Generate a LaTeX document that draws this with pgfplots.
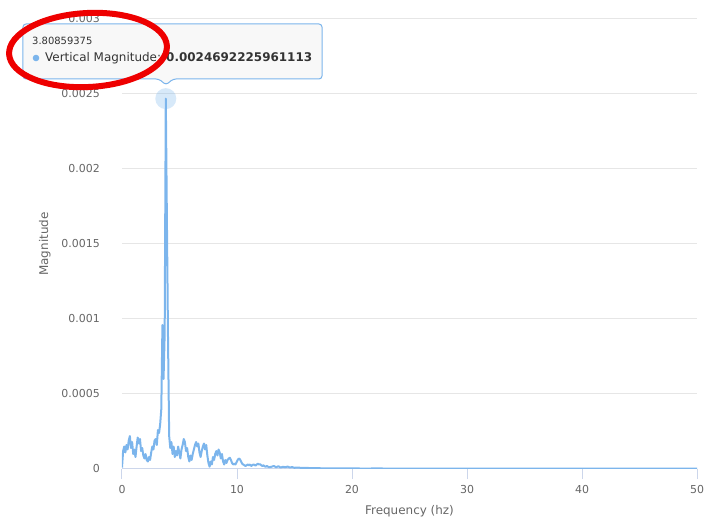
\documentclass[border=0pt]{standalone}
\usepackage{pgfplots}
\pgfplotsset{compat=1.18}
\usepackage{fontspec}
\setmainfont{DejaVu Sans}
\definecolor{hcblue}{HTML}{7CB5EC}
\definecolor{gridc}{HTML}{E6E6E6}
\definecolor{axc}{HTML}{CCD6EB}
\definecolor{lab}{HTML}{666666}
\definecolor{ttxt}{HTML}{333333}
\definecolor{ttbg}{HTML}{F7F7F7}
\definecolor{annred}{HTML}{EE0000}
\begin{document}
\begin{tikzpicture}
\useasboundingbox (-122bp,-51bp) rectangle (591bp,469bp);
\begin{axis}[
 scale only axis, width=575bp, height=450bp,
 xmin=0, xmax=50, ymin=0, ymax=0.003,
 axis lines=left, axis line style={-},
 x axis line style={draw=axc, line width=1bp},
 y axis line style={draw=none},
 xtick={0,10,20,30,40,50}, xticklabels={0,10,20,30,40,50},
 ytick={0,0.0005,0.001,0.0015,0.002,0.0025,0.003},
 yticklabels={0,0.0005,0.001,0.0015,0.002,0.0025,0.003},
 scaled y ticks=false,
 tick align=outside, major tick length=10bp,
 xtick style={draw=axc, line width=1bp},
 ytick style={draw=none},
 ymajorgrids, grid style={draw=gridc, line width=1bp},
 tick label style={font=\fontsize{11}{13}\selectfont, text=lab},
 xticklabel style={anchor=north, inner sep=0pt, yshift=-6bp},
 yticklabel style={anchor=east, inner sep=0pt, xshift=-12bp},
 xlabel={Frequency (hz)}, ylabel={Magnitude},
 every axis x label/.style={at={(axis description cs:0.5,-0.0933)}, anchor=center, font=\fontsize{12}{14}\selectfont, text=lab},
 every axis y label/.style={at={(axis description cs:-0.134,0.5)}, rotate=90, anchor=center, font=\fontsize{12}{14}\selectfont, text=lab},
]
\addplot[hcblue, line width=2bp, line join=round] table {
x y
0.000 0.1e-4
0.098 1.2e-4
0.195 1.5e-4
0.293 1.1e-4
0.391 1.6e-4
0.488 1.3e-4
0.586 1.9e-4
0.684 2.2e-4
0.781 1.4e-4
0.879 1.8e-4
0.977 1.0e-4
1.074 1.3e-4
1.172 0.8e-4
1.270 1.5e-4
1.367 2.1e-4
1.465 1.7e-4
1.563 2.0e-4
1.660 1.2e-4
1.758 1.4e-4
1.855 0.9e-4
1.953 0.7e-4
2.051 1.0e-4
2.148 0.6e-4
2.246 0.5e-4
2.344 0.8e-4
2.441 0.6e-4
2.539 1.1e-4
2.637 1.5e-4
2.734 1.3e-4
2.832 1.9e-4
2.930 2.0e-4
3.027 1.6e-4
3.125 2.6e-4
3.223 2.4e-4
3.320 3.0e-4
3.418 4.0e-4
3.516 9.6e-4
3.613 6.0e-4
3.711 9.0e-4
3.80859375 0.0024692225961113
3.906 16.5e-4
4.004 8.5e-4
4.102 2.2e-4
4.199 1.4e-4
4.297 1.8e-4
4.395 1.0e-4
4.492 1.5e-4
4.590 0.8e-4
4.688 1.2e-4
4.785 0.9e-4
4.883 1.5e-4
4.980 1.1e-4
5.078 0.7e-4
5.176 1.3e-4
5.273 1.6e-4
5.371 2.0e-4
5.469 1.8e-4
5.566 1.2e-4
5.664 1.4e-4
5.762 0.8e-4
5.859 0.5e-4
5.957 0.9e-4
6.055 0.6e-4
6.152 1.0e-4
6.250 1.3e-4
6.348 1.6e-4
6.445 1.8e-4
6.543 1.5e-4
6.641 1.7e-4
6.738 1.1e-4
6.836 0.8e-4
6.934 1.2e-4
7.031 1.5e-4
7.129 1.7e-4
7.227 1.3e-4
7.324 1.6e-4
7.422 0.9e-4
7.520 0.4e-4
7.617 0.15e-4
7.715 0.5e-4
7.813 0.3e-4
7.910 0.8e-4
8.008 0.6e-4
8.105 1.0e-4
8.203 1.2e-4
8.301 0.9e-4
8.398 1.3e-4
8.496 1.1e-4
8.594 0.7e-4
8.691 1.0e-4
8.789 0.5e-4
8.887 0.3e-4
8.984 0.6e-4
9.082 0.4e-4
9.180 0.6e-4
9.277 0.7e-4
9.375 0.75e-4
9.473 0.6e-4
9.570 0.4e-4
9.668 0.3e-4
9.766 0.35e-4
9.863 0.3e-4
9.961 0.45e-4
10.059 0.6e-4
10.156 0.7e-4
10.254 0.65e-4
10.352 0.5e-4
10.449 0.35e-4
10.547 0.3e-4
10.645 0.25e-4
10.742 0.2e-4
10.840 0.25e-4
10.938 0.3e-4
11.035 0.25e-4
11.133 0.3e-4
11.230 0.2e-4
11.328 0.25e-4
11.426 0.3e-4
11.523 0.28e-4
11.621 0.22e-4
11.719 0.3e-4
11.816 0.35e-4
11.914 0.3e-4
12.012 0.32e-4
12.109 0.25e-4
12.207 0.2e-4
12.305 0.25e-4
12.402 0.18e-4
12.500 0.15e-4
12.598 0.2e-4
12.695 0.15e-4
12.793 0.12e-4
13.0 0.15e-4
13.2 0.2e-4
13.4 0.12e-4
13.6 0.18e-4
13.8 0.1e-4
14.0 0.15e-4
14.2 0.12e-4
14.4 0.16e-4
14.6 0.1e-4
14.8 0.13e-4
15.0 0.08e-4
15.3 0.1e-4
15.6 0.07e-4
16.0 0.08e-4
16.5 0.05e-4
17.0 0.06e-4
17.5 0.04e-4
18.0 0.05e-4
19.0 0.04e-4
20.0 0.04e-4
21.0 0.03e-4
22.0 0.035e-4
24.0 0.03e-4
26.0 0.03e-4
28.0 0.025e-4
30.0 0.03e-4
32.0 0.025e-4
35.0 0.02e-4
38.0 0.025e-4
41.0 0.02e-4
44.0 0.02e-4
47.0 0.02e-4
50.0 0.02e-4
};
\addplot[only marks, mark=*, mark size=10.5bp, draw=none, fill=hcblue, fill opacity=0.3, mark options={draw=none, fill=hcblue, fill opacity=0.3, draw opacity=0}] coordinates {(3.80859375,0.0024692225961113)};
\end{axis}
% tooltip
\draw[hcblue, line width=1bp, fill=ttbg, fill opacity=0.88, rounded corners=3bp]
 (-99bp,390bp) -- (37bp,390bp) -- (44bp,384bp) -- (51bp,390bp) -- (200bp,390bp) -- (200bp,445bp) -- (-99bp,445bp) -- cycle;
\node[anchor=base west, font=\fontsize{10}{12}\selectfont, text=ttxt, inner sep=0pt] at (-90bp,424bp) {3.80859375};
\fill[hcblue] (-86bp,411bp) circle (3.3bp);
\node[anchor=base west, font=\fontsize{12}{14}\selectfont, text=ttxt, inner sep=0pt] at (-77bp,407bp) {Vertical Magnitude: \textbf{0.0024692225961113}};
% annotation ellipse
\draw[annred, line width=6bp, rotate around={3:(-34bp,419bp)}] (-34bp,419bp) ellipse [x radius=79bp, y radius=37bp];
\end{tikzpicture}
\end{document}
